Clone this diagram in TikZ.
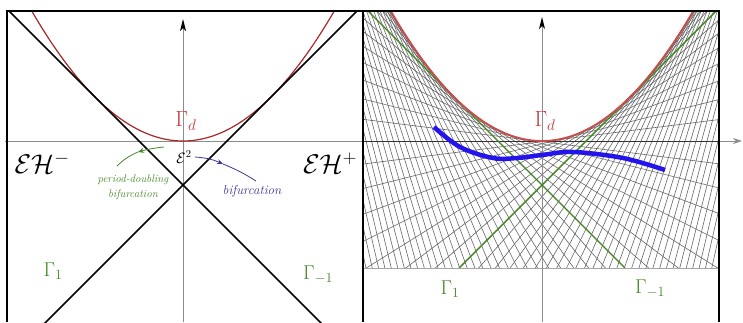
\documentclass[tikz,border=0pt]{standalone}
\usepackage{fix-cm}
\usepackage{amsmath}
\usetikzlibrary{arrows.meta}
\definecolor{parL}{RGB}{170,40,40}
\definecolor{parR}{RGB}{205,75,75}
\definecolor{labred}{RGB}{200,60,60}
\definecolor{grn}{RGB}{65,135,35}
\definecolor{bluecurve}{RGB}{35,20,235}
\definecolor{annblue}{RGB}{60,55,150}
\tikzset{
  frame/.style={line width=2pt, black},
  axisline/.style={line width=0.9pt, black!45},
  axtip/.style={-{Stealth[length=9pt,width=6pt]}},
  hatch/.style={line width=0.6pt, black!60},
  gline/.style={line width=1.4pt, grn},
  glabel/.style={text=grn, font=\fontsize{20}{20}\selectfont},
  rlabel/.style={text=labred, font=\fontsize{22}{22}\selectfont},
  ehlabel/.style={font=\fontsize{27}{27}\selectfont},
  ann/.style={line width=0.8pt},
  anntip/.style={-{Stealth[length=6pt,width=5pt]}},
}
\begin{document}
\begin{tikzpicture}[x=1pt,y=-1pt]
\useasboundingbox (0,0) rectangle (743,322);

% ---------------- right panel hatching ----------------
\begin{scope}[shift={(542,141)},x=44pt,y=44pt]
  \begin{scope}
    \clip (-4.07,2.955) rectangle (4.02,-2.886);
    \foreach \k in {-37,...,37}{
      \draw[hatch] (-5,{\k/8*(-5)-\k*\k/64}) -- (5,{\k/8*5-\k*\k/64});
    }
  \end{scope}
  \draw[line width=0.5pt, black!35] (-4.07,-2.886) -- (4.02,-2.886);
\end{scope}

% ---------------- axes ----------------
\draw[axisline, axtip] (5,141) -- (742,141);
\draw[line width=1pt, black!80] (363,141) -- (719,141);
\draw[axisline] (183,322) -- (183,24);
\draw[axisline] (542,322) -- (542,22);
\fill[black] (183,19) -- (180,31) -- (183,28) -- (186,31) -- cycle;
\fill[black] (542,17) -- (539,29) -- (542,26) -- (545,29) -- cycle;

% ---------------- left panel ----------------
\begin{scope}[shift={(183,141)},x=44pt,y=44pt]
  \begin{scope}
    \clip (-4,2.955) rectangle (4.09,-4.2);
    \draw[parL, line width=1.2pt] plot[domain=-3.6:3.6,samples=90] (\x,{\x*\x/4});
    \draw[line width=1.6pt] (-4.3,3.3) -- (4.3,-5.3);
    \draw[line width=1.6pt] (4.3,3.3) -- (-4.3,-5.3);
  \end{scope}
\end{scope}

% ---------------- right panel curves ----------------
\begin{scope}[shift={(542,141)},x=44pt,y=44pt]
  \begin{scope}
    \clip (-4.07,2.955) rectangle (4.02,-2.886);
    \draw[gline] (-3.955,2.955) -- (1.886,-2.886);
    \draw[gline] (3.955,2.955) -- (-1.886,-2.886);
    \draw[parR, line width=1.8pt] plot[domain=-3.6:3.6,samples=90] (\x,{\x*\x/4});
  \end{scope}
\end{scope}

\draw[bluecurve, line width=4.5pt] plot[smooth, tension=0.6] coordinates
  {(434,127) (460,147) (493,158) (517,158) (542,155) (573,152) (623,158) (665,170)};

% ---------------- frames ----------------
\draw[frame] (7,322) -- (7,11) -- (719,11) -- (719,322);
\draw[line width=2.5pt] (363,11) -- (363,322);

% ---------------- labels ----------------
\node[rlabel] (gdL) at (186,121) {$\Gamma_{d}$};
\node[rlabel] (gdR) at (545,121) {$\Gamma_{d}$};
\node[glabel] (g1L) at (53,271) {$\Gamma_{1}$};
\node[glabel] (gm1L) at (318,275) {$\Gamma_{-1}$};
\node[glabel] (g1R) at (450,289) {$\Gamma_{1}$};
\node[glabel] (gm1R) at (650,289) {$\Gamma_{-1}$};
\node[ehlabel] (ehm) at (42,163) {$\mathcal{E}\mathcal{H}^{-}$};
\node[ehlabel] (ehp) at (330,163) {$\mathcal{E}\mathcal{H}^{+}$};
\node[font=\fontsize{15}{15}\selectfont] (eps) at (184,157) {$\mathcal{E}^{2}$};
\node[text=grn, align=center, font=\fontsize{11}{15}\selectfont\itshape] (pd) at (133,187) {period-doubling\\bifurcation};
\node[text=annblue, font=\fontsize{13}{14}\selectfont\itshape] (bif) at (252,191) {bifurcation};

% ---------------- annotation arrows ----------------
\coordinate (gA) at (164,147);
\coordinate (gM) at (138,152);
\coordinate (gB) at (117,166);
\draw[grn, ann, anntip] (gA) to[bend right=5] (gM);
\draw[grn, ann] (gM) to[bend right=10] (gB);
\coordinate (bA) at (195,157);
\coordinate (bM) at (223,164);
\coordinate (bB) at (256,181);
\draw[annblue, ann, anntip] (bA) to[bend left=10] (bM);
\draw[annblue, ann] (bM) to[bend left=5] (bB);
\end{tikzpicture}
\end{document}
